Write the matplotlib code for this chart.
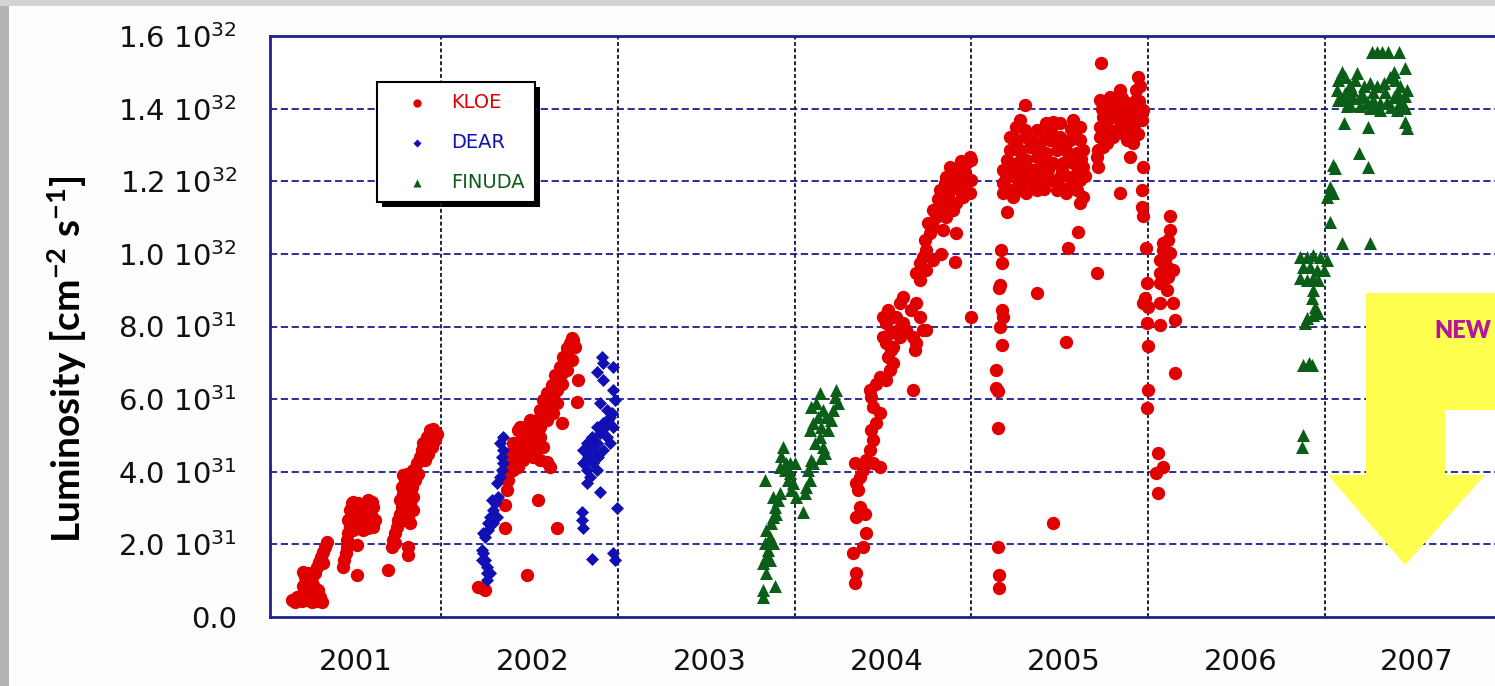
import matplotlib
matplotlib.use("Agg")
import matplotlib.pyplot as plt
from matplotlib.patches import Polygon, Rectangle

# ---------------- data (luminosity in units of 1e31 cm^-2 s^-1) ----------------
kloe_2001_year = [2001.155, 2001.174, 2001.193, 2001.212, 2001.231, 2001.250, 2001.269, 2001.297, 2001.325,
                  2001.316, 2001.212, 2001.231, 2001.250, 2001.269, 2001.221, 2001.240, 2001.259, 2001.278,
                  2001.231, 2001.250, 2001.269, 2001.221, 2001.288, 2001.297, 2001.312, 2001.320, 2001.331,
                  2001.344, 2001.353, 2001.334, 2001.306, 2001.288, 2001.259, 2001.203, 2001.184,
                  2001.448, 2001.452, 2001.464, 2001.471, 2001.468, 2001.476, 2001.485, 2001.476, 2001.485,
                  2001.495, 2001.504, 2001.533, 2001.561, 2001.589, 2001.608, 2001.617, 2001.598, 2001.570,
                  2001.542, 2001.514, 2001.495, 2001.523, 2001.551, 2001.580, 2001.608, 2001.627, 2001.598,
                  2001.570, 2001.542, 2001.514, 2001.495, 2001.533, 2001.561, 2001.589, 2001.617, 2001.504,
                  2001.527, 2001.527,
                  2001.702, 2001.721, 2001.731, 2001.740, 2001.750, 2001.759, 2001.768, 2001.778, 2001.768,
                  2001.787, 2001.778, 2001.797, 2001.787, 2001.806, 2001.825, 2001.844, 2001.862, 2001.881,
                  2001.891, 2001.900, 2001.919, 2001.938, 2001.957, 2001.975, 2001.966, 2001.947, 2001.928,
                  2001.910, 2001.872, 2001.853, 2001.834, 2001.844, 2001.825, 2001.844, 2001.815, 2001.806,
                  2001.825, 2001.815, 2001.815, 2001.806, 2001.825, 2001.787, 2001.740]
kloe_2001_lum = [0.47, 0.42, 0.49, 0.45, 0.51, 0.47, 0.42, 0.45, 0.42,
                 0.56, 0.61, 0.70, 0.74, 0.67, 0.84, 0.93, 1.02, 0.88,
                 1.11, 1.20, 1.11, 1.25, 1.20, 1.39, 1.52, 1.66, 1.80,
                 1.94, 2.07, 1.48, 0.74, 0.61, 0.56, 0.56, 0.56,
                 1.39, 1.57, 1.75, 1.94, 2.12, 2.30, 2.49, 2.67, 2.94,
                 3.13, 3.17, 3.13, 3.08, 3.22, 3.17, 3.04, 2.94, 2.94,
                 2.94, 2.94, 2.85, 2.76, 2.76, 2.81, 2.76, 2.67, 2.58,
                 2.53, 2.58, 2.53, 2.62, 2.44, 2.39, 2.44, 2.49, 2.39,
                 1.16, 1.98,
                 1.29, 1.94, 2.12, 2.30, 2.49, 2.67, 2.85, 3.04, 3.22,
                 3.40, 3.59, 3.77, 3.91, 3.95, 3.86, 4.04, 4.23, 4.41,
                 4.60, 4.78, 4.96, 5.15, 5.19, 5.05, 4.87, 4.69, 4.50,
                 4.32, 3.95, 3.77, 3.59, 3.31, 3.13, 2.94, 2.76, 2.94,
                 2.58, 1.94, 1.71, 3.50, 3.40, 2.67, 2.03]

kloe_2002_year = [2002.211, 2002.230, 2002.249, 2002.488, 2002.362, 2002.654, 2002.551, 2002.362, 2002.371,
                  2002.381, 2002.381, 2002.400, 2002.419, 2002.390, 2002.447, 2002.428, 2002.466, 2002.409,
                  2002.485, 2002.456, 2002.503, 2002.437, 2002.522, 2002.475, 2002.560, 2002.541, 2002.503,
                  2002.579, 2002.447, 2002.598, 2002.560, 2002.617, 2002.579, 2002.635, 2002.598, 2002.654,
                  2002.626, 2002.664, 2002.645, 2002.683, 2002.673, 2002.701, 2002.692, 2002.720, 2002.711,
                  2002.730, 2002.739, 2002.749, 2002.758, 2002.739, 2002.711, 2002.683, 2002.654, 2002.635,
                  2002.598, 2002.560, 2002.579, 2002.541, 2002.522, 2002.503, 2002.560, 2002.598, 2002.617,
                  2002.409, 2002.437, 2002.466, 2002.485, 2002.522, 2002.541, 2002.777, 2002.767, 2002.683]
kloe_2002_lum = [0.83, 0.79, 0.74, 1.15, 2.44, 2.44, 3.22, 3.08, 3.50,
                 3.77, 4.05, 4.23, 4.41, 4.51, 4.51, 4.69, 4.69, 4.78,
                 4.87, 4.97, 5.01, 5.15, 5.15, 5.24, 5.24, 5.42, 5.42,
                 5.52, 5.24, 5.70, 5.70, 5.88, 5.98, 6.07, 6.16, 6.25,
                 6.39, 6.53, 6.66, 6.71, 6.89, 6.99, 7.17, 7.26, 7.40,
                 7.54, 7.67, 7.63, 7.44, 7.08, 6.80, 6.43, 5.88, 5.61,
                 5.42, 4.97, 4.69, 4.60, 4.41, 4.69, 4.32, 4.28, 4.14,
                 4.05, 4.14, 4.32, 4.51, 4.78, 4.97, 6.53, 5.93, 5.33]

dear_2002_year = [2002.239, 2002.249, 2002.258, 2002.277, 2002.258, 2002.230, 2002.249, 2002.268, 2002.296,
                  2002.315, 2002.296, 2002.305, 2002.287, 2002.324, 2002.315, 2002.334, 2002.343, 2002.353,
                  2002.343, 2002.353, 2002.334, 2002.353, 2002.268, 2002.277, 2002.239, 2002.230, 2002.258,
                  2002.909, 2002.918, 2002.975, 2002.880, 2002.918, 2002.975, 2002.984, 2002.899, 2002.937,
                  2002.965, 2002.946, 2002.918, 2002.880, 2002.975, 2002.899, 2002.852, 2002.937, 2002.824,
                  2002.880, 2002.956, 2002.805, 2002.862, 2002.918, 2002.833, 2002.890, 2002.805, 2002.862,
                  2002.824, 2002.880, 2002.843, 2002.824, 2002.899, 2002.994, 2002.796, 2002.796, 2002.805,
                  2002.852, 2002.975, 2002.984, 2002.956, 2002.928, 2002.862, 2002.843]
dear_2002_lum = [1.75, 1.57, 1.38, 1.20, 1.02, 1.57, 2.21, 2.39, 2.58,
                 2.76, 2.94, 3.13, 3.22, 3.31, 3.68, 3.86, 4.05, 4.23,
                 4.41, 4.60, 4.78, 4.97, 2.58, 2.76, 2.30, 1.84, 1.20,
                 7.17, 6.99, 6.89, 6.75, 6.53, 6.25, 5.98, 5.88, 5.70,
                 5.61, 5.42, 5.33, 5.24, 5.24, 5.06, 4.97, 4.97, 4.78,
                 4.78, 4.78, 4.60, 4.60, 4.60, 4.41, 4.41, 4.23, 4.23,
                 4.05, 4.05, 3.86, 3.68, 3.45, 2.99, 2.90, 2.67, 2.44,
                 1.61, 1.75, 1.57, 5.52, 5.24, 4.87, 4.69]

finuda_2003_year = [2003.821, 2003.821, 2003.887, 2003.821, 2003.840, 2003.849, 2003.830, 2003.859, 2003.840,
                    2003.868, 2003.877, 2003.896, 2003.887, 2003.906, 2003.877, 2003.915, 2003.830, 2003.934,
                    2003.925, 2003.953, 2003.943, 2003.972, 2003.962, 2003.991, 2003.981, 2004.009, 2004.000,
                    2003.972, 2003.915, 2004.094, 2004.075, 2004.085, 2004.066, 2004.057, 2004.047, 2004.104,
                    2004.141, 2004.123, 2004.160, 2004.132, 2004.179, 2004.104, 2004.151, 2004.189, 2004.141,
                    2004.207, 2004.226, 2004.236, 2004.245, 2004.217, 2004.113, 2004.160, 2004.170, 2004.151,
                    2004.094, 2004.085, 2003.859, 2003.840, 2003.877]
finuda_2003_lum = [0.56, 0.74, 0.84, 1.48, 1.66, 1.85, 2.03, 2.21, 2.40,
                   2.58, 2.76, 2.85, 3.04, 3.22, 3.31, 3.41, 3.77, 4.69,
                   4.42, 4.23, 4.05, 3.96, 3.77, 3.68, 3.50, 3.31, 4.23,
                   4.23, 4.14, 4.32, 4.05, 3.77, 3.59, 3.41, 2.90, 4.23,
                   6.16, 5.88, 5.70, 5.52, 5.52, 5.33, 5.24, 5.15, 4.97,
                   5.42, 6.07, 6.25, 5.88, 5.70, 4.78, 4.69, 4.51, 4.37,
                   5.79, 5.15, 1.57, 1.20, 2.03]

kloe_2004_year = [2004.339, 2004.349, 2004.330, 2004.387, 2004.405, 2004.349, 2004.368, 2004.396, 2004.358,
                  2004.349, 2004.339, 2004.368, 2004.387, 2004.405, 2004.443, 2004.481, 2004.424, 2004.443,
                  2004.434, 2004.462, 2004.481, 2004.443, 2004.434, 2004.424, 2004.462, 2004.481, 2004.518,
                  2004.537, 2004.556, 2004.528, 2004.547, 2004.518, 2004.500, 2004.537, 2004.518, 2004.500,
                  2004.528, 2004.613, 2004.594, 2004.575, 2004.613, 2004.632, 2004.594, 2004.556, 2004.585,
                  2004.556, 2004.660, 2004.688, 2004.707, 2004.726, 2004.745, 2004.669, 2004.679, 2004.688,
                  2004.669, 2004.688, 2004.707, 2004.726, 2004.745, 2004.735, 2004.764, 2004.782, 2004.754,
                  2004.801, 2004.820, 2004.782, 2004.839, 2004.858, 2004.820, 2004.877, 2004.914, 2004.896,
                  2004.858, 2004.933, 2004.971, 2004.990, 2004.995, 2004.971, 2004.952, 2004.914, 2004.896,
                  2004.877, 2004.995, 2004.990, 2004.914, 2004.830, 2004.905, 2004.999, 2004.745, 2004.707,
                  2004.782, 2004.839, 2004.858, 2004.933, 2004.952,
                  2004.870, 2004.900, 2004.920, 2004.940, 2004.960, 2004.880, 2004.850, 2004.980, 2004.810,
                  2004.940]
kloe_2004_lum = [0.93, 1.20, 1.75, 1.94, 2.30, 2.76, 3.04, 2.85, 3.50,
                 3.68, 4.23, 3.86, 4.05, 4.32, 4.23, 4.14, 4.60, 4.87,
                 5.15, 5.33, 5.61, 5.79, 6.07, 6.25, 6.43, 6.62, 6.53,
                 6.80, 6.99, 7.17, 7.35, 7.54, 7.72, 7.81, 8.09, 8.27,
                 8.45, 8.82, 8.64, 8.27, 8.09, 7.90, 7.72, 7.44, 7.90,
                 8.27, 8.45, 8.64, 8.27, 7.90, 7.90, 7.72, 7.35, 7.54,
                 6.25, 9.46, 9.74, 9.92, 10.11, 10.38, 10.57, 10.75, 10.84,
                 11.02, 11.21, 11.21, 11.39, 11.58, 11.76, 11.94, 12.03, 12.22,
                 12.13, 12.31, 12.49, 12.68, 12.58, 11.94, 11.58, 11.39, 11.21,
                 11.76, 12.03, 11.67, 10.57, 10.01, 9.79, 8.27, 9.55, 9.28,
                 9.83, 10.66, 11.02, 11.85, 12.13,
                 11.50, 11.95, 12.35, 11.70, 12.30, 12.40, 11.95, 12.00, 11.50,
                 12.55]

kloe_2005_year = [2005.151, 2005.151, 2005.141, 2005.151, 2005.141, 2005.175, 2005.160, 2005.179, 2005.170,
                  2005.156, 2005.160, 2005.170, 2005.166, 2005.198, 2005.153, 2005.153,
                  2005.368, 2005.537, 2005.462, 2005.707, 2005.547, 2005.603,
                  2005.302, 2005.273, 2005.217, 2005.255, 2005.311, 2005.368, 2005.424, 2005.462, 2005.500,
                  2005.575, 2005.613, 2005.217, 2005.273, 2005.330, 2005.386, 2005.443, 2005.500, 2005.556,
                  2005.613, 2005.198, 2005.255, 2005.311, 2005.368, 2005.424, 2005.481, 2005.537, 2005.594,
                  2005.632, 2005.179, 2005.236, 2005.292, 2005.349, 2005.405, 2005.462, 2005.518, 2005.575,
                  2005.632, 2005.179, 2005.217, 2005.273, 2005.330, 2005.386, 2005.443, 2005.500, 2005.556,
                  2005.613, 2005.179, 2005.236, 2005.311, 2005.368, 2005.481, 2005.537, 2005.594, 2005.632,
                  2005.613,
                  2005.735, 2005.943, 2005.952, 2005.839, 2005.782, 2005.726, 2005.764, 2005.820, 2005.877,
                  2005.933, 2005.971, 2005.745, 2005.801, 2005.858, 2005.914, 2005.962, 2005.726, 2005.782,
                  2005.839, 2005.896, 2005.726, 2005.801, 2005.877, 2005.764, 2005.914, 2005.896, 2005.716,
                  2005.707, 2005.716, 2005.971, 2005.839, 2005.933, 2005.952,
                  2005.962, 2005.962, 2005.971, 2005.986, 2005.990, 2005.980, 2005.999, 2005.990, 2005.999,
                  2005.999, 2005.990, 2005.971,
                  2006.122, 2006.122, 2006.112, 2006.084, 2006.122, 2006.065, 2006.103, 2006.065, 2006.112,
                  2006.141, 2006.065, 2006.103, 2006.065, 2006.141, 2006.065, 2006.150, 2006.150, 2006.056,
                  2006.084, 2006.046, 2006.056, 2006.084, 2006.093]
kloe_2005_lum = [1.94, 5.20, 6.30, 6.21, 6.80, 7.49, 8.00, 8.27, 8.46,
                 9.05, 9.14, 9.74, 10.11, 11.16, 1.16, 0.80,
                 8.91, 7.58, 2.58, 9.48, 10.15, 10.61,
                 14.10, 13.69, 13.23, 13.14, 13.23, 13.41, 13.60, 13.64, 13.60,
                 13.69, 13.50, 12.86, 12.86, 12.95, 13.05, 13.14, 13.23, 13.14,
                 13.14, 12.59, 12.49, 12.59, 12.68, 12.77, 12.86, 12.86, 12.77,
                 12.86, 12.31, 12.22, 12.31, 12.31, 12.40, 12.49, 12.49, 12.49,
                 12.40, 11.94, 11.76, 11.94, 12.04, 12.13, 12.04, 12.13, 12.13,
                 12.04, 11.67, 11.58, 11.67, 11.76, 11.76, 11.67, 11.76, 11.58,
                 11.39,
                 15.27, 14.88, 14.61, 14.51, 14.33, 14.24, 14.06, 14.15, 14.15,
                 14.24, 13.96, 13.78, 13.78, 13.87, 13.78, 13.69, 13.50, 13.41,
                 13.50, 13.41, 13.23, 13.23, 13.14, 13.05, 13.05, 12.68, 12.86,
                 12.68, 12.40, 12.40, 11.67, 14.51, 13.96,
                 11.76, 11.30, 11.03, 10.15, 9.19, 8.78, 8.55, 8.09, 7.45,
                 6.25, 5.75, 8.64,
                 11.03, 10.66, 10.38, 10.11, 10.02, 9.83, 9.65, 9.47, 9.37,
                 9.56, 9.19, 9.01, 8.64, 8.64, 8.04, 8.18, 6.71, 4.51,
                 4.14, 3.96, 3.41, 10.29, 9.83]

# extra points inside the dense 2005 clusters
kloe_2005_core_year = [2005.195, 2005.225, 2005.245, 2005.265, 2005.285, 2005.300, 2005.320, 2005.340, 2005.355,
                       2005.375, 2005.395, 2005.410, 2005.415, 2005.435, 2005.450, 2005.470, 2005.490, 2005.510,
                       2005.525, 2005.545, 2005.565, 2005.585, 2005.600, 2005.620, 2005.640, 2005.285, 2005.520,
                       2005.250, 2005.560,
                       2005.740, 2005.760, 2005.800, 2005.830, 2005.850, 2005.870, 2005.900, 2005.920, 2005.950,
                       2005.780, 2005.860, 2005.940, 2005.745]
kloe_2005_core_lum = [12.10, 12.45, 12.90, 12.00, 12.65, 13.40, 12.20, 13.10, 11.90,
                      12.95, 12.55, 11.80, 13.25, 12.30, 13.45, 12.00, 13.20, 12.30,
                      13.00, 12.60, 11.90, 13.35, 12.30, 12.60, 12.15, 11.75, 11.80,
                      13.50, 13.45,
                      14.00, 13.60, 14.00, 13.80, 14.30, 13.60, 14.00, 13.55, 14.20,
                      13.20, 13.30, 13.30, 12.95]

finuda_2007_year = [2006.859, 2006.896, 2006.934, 2006.972, 2007.009, 2006.877, 2006.915, 2006.953, 2006.991,
                    2006.859, 2006.896, 2006.934, 2006.962, 2006.934, 2006.925, 2006.943, 2006.962, 2006.934,
                    2006.896, 2006.887, 2006.877, 2006.906, 2006.925, 2006.877, 2006.868,
                    2007.264, 2007.292, 2007.320, 2007.358, 2007.415, 2007.453, 2007.387, 2007.094, 2007.113,
                    2007.075, 2007.179, 2007.170, 2007.141, 2007.217, 2007.255, 2007.292, 2007.330, 2007.368,
                    2007.396, 2007.424, 2007.462, 2007.066, 2007.113, 2007.075, 2007.123, 2007.160, 2007.198,
                    2007.236, 2007.273, 2007.311, 2007.349, 2007.387, 2007.424, 2007.443, 2007.123, 2007.198,
                    2007.255, 2007.311, 2007.405, 2007.453, 2007.104, 2007.245, 2007.453, 2007.462, 2007.189,
                    2007.245, 2007.047, 2007.057, 2007.028, 2007.019, 2007.047, 2007.028, 2007.094, 2007.255,
                    2007.009,
                    2007.090, 2007.150, 2007.210, 2007.270, 2007.340, 2007.410, 2007.450, 2007.140, 2007.290,
                    2007.370]
finuda_2007_lum = [9.92, 9.92, 9.97, 9.92, 9.83, 9.65, 9.65, 9.56, 9.56,
                   9.33, 9.28, 9.33, 9.28, 9.01, 8.78, 8.55, 8.36, 8.32,
                   8.23, 8.09, 6.94, 6.99, 6.94, 5.01, 4.69,
                   15.57, 15.57, 15.57, 15.57, 15.57, 15.11, 15.02, 15.02, 14.88,
                   14.79, 14.97, 14.79, 14.65, 14.61, 14.70, 14.61, 14.70, 14.88,
                   14.79, 14.61, 14.51, 14.51, 14.42, 14.24, 14.24, 14.28, 14.33,
                   14.19, 14.24, 14.15, 14.19, 14.33, 14.19, 14.06, 14.06, 14.06,
                   14.01, 13.96, 13.96, 14.01, 13.60, 13.50, 13.64, 13.46, 12.77,
                   12.40, 12.45, 12.36, 11.85, 11.67, 11.67, 10.89, 10.29, 10.29,
                   11.58,
                   14.30, 14.50, 14.40, 14.45, 14.45, 14.40, 14.35, 14.10, 14.05,
                   14.05]

year_labels = ["2001", "2002", "2003", "2004", "2005", "2006", "2007"]
year_bounds = [2002, 2003, 2004, 2005, 2006, 2007]
ytick_vals = [0, 2, 4, 6, 8, 10, 12, 14, 16]
ytick_labels = ["0.0", "2.0 10$^{31}$", "4.0 10$^{31}$", "6.0 10$^{31}$", "8.0 10$^{31}$",
                "1.0 10$^{32}$", "1.2 10$^{32}$", "1.4 10$^{32}$", "1.6 10$^{32}$"]
series_names = ["KLOE", "DEAR", "FINUDA"]

# ---------------- figure ----------------
plt.rcParams["mathtext.default"] = "regular"
plt.rcParams["font.family"] = ["DejaVu Sans"]

W, H = 1495, 686
fig = plt.figure(figsize=(W / 100, H / 100), dpi=100, facecolor="#fdfdfc")

def fx(px):
    return px / W

def fy(py):
    return 1 - py / H

# grey screenshot border strips
fig.patches.append(Rectangle((0, 0), fx(9), 1, transform=fig.transFigure, facecolor="#b4b4b4",
                             edgecolor="none", zorder=0))
fig.patches.append(Rectangle((0, fy(6)), 1, 6 / H, transform=fig.transFigure,
                             facecolor="#d4d4d4", edgecolor="none", zorder=0))

L, R, T, B = 270, 1502, 36, 617
ax = fig.add_axes([fx(L), fy(B), (R - L) / W, (B - T) / H])
ax.set_xlim(2001.033, 2008.0)
ax.set_ylim(0, 16)

red = "#e00000"
blue = "#1010b4"
green = "#0b5e17"

kloe_year = kloe_2001_year + kloe_2002_year + kloe_2004_year + kloe_2005_year + kloe_2005_core_year
kloe_lum = kloe_2001_lum + kloe_2002_lum + kloe_2004_lum + kloe_2005_lum + kloe_2005_core_lum
finuda_year = finuda_2003_year + finuda_2007_year
finuda_lum = finuda_2003_lum + finuda_2007_lum

h_f = ax.scatter(finuda_year, finuda_lum, marker="^", s=88, color=green, linewidths=0, zorder=3,
                 label=series_names[2])
h_k = ax.scatter(kloe_year, kloe_lum, marker="o", s=92, color=red, linewidths=0, zorder=4,
                 label=series_names[0])
h_d = ax.scatter(dear_2002_year, dear_2002_lum, marker="D", s=44, color=blue, linewidths=0, zorder=5,
                 label=series_names[1])

# grid
ax.set_yticks(ytick_vals)
ax.set_yticklabels(ytick_labels)
for yv in ytick_vals[1:-1]:
    ax.axhline(yv, color="#1e1e8c", lw=1.3, linestyle=(0, (4, 2)), zorder=1)
for xv in year_bounds:
    ax.axvline(xv, color="#202040", lw=1.4, linestyle=(0, (2, 1.3)), zorder=1)

ax.set_xticks([y + 0.52 for y in range(2001, 2008)])
ax.set_xticklabels(year_labels)
ax.tick_params(axis="both", length=0, labelsize=21, colors="#111111")
ax.tick_params(axis="y", pad=24)
ax.tick_params(axis="x", pad=22)

for sp in ax.spines.values():
    sp.set_color("#1f1f8f")
    sp.set_linewidth(2)

# legend
leg = ax.legend(handles=[h_k, h_d, h_f], loc="upper left", bbox_to_anchor=(0.0869, 0.9208),
                borderaxespad=0, fontsize=14, frameon=True, fancybox=False, markerscale=0.62,
                borderpad=0.55, labelspacing=1.08, handlelength=3.0, handletextpad=0.25,
                labelcolor=[red, blue, green])
leg.get_frame().set_edgecolor("black")
leg.get_frame().set_linewidth(1.5)
leg.get_frame().set_alpha(1)
leg.set_zorder(10)

fig.canvas.draw()
bb = leg.get_window_extent()
sh = 5
fig.patches.append(Rectangle(((bb.x0 + sh) / W, (bb.y0 - sh) / H), bb.width / W, bb.height / H,
                             transform=fig.transFigure, facecolor="black", edgecolor="none", zorder=0.5))
ax.set_zorder(1)
ax.patch.set_alpha(0)
fig.patches.append(Rectangle((fx(L), fy(B)), (R - L) / W, (B - T) / H, transform=fig.transFigure,
                             facecolor="white", edgecolor="none", zorder=0.2))

# y label
fig.text(fx(67), fy(359), "Luminosity [cm$^{-2}$ s$^{-1}$]", rotation=90, ha="center", va="center",
         fontsize=28, fontweight="bold", family=["Lato", "DejaVu Sans"], color="black")

# yellow bent arrow overlay
arrow_px = [(1510, 293), (1366, 293), (1366, 475), (1328, 475), (1405, 565), (1485, 475),
            (1445, 475), (1445, 410), (1510, 410)]
fig.patches.append(Polygon([(fx(x), fy(y)) for x, y in arrow_px], closed=True, transform=fig.transFigure,
                           facecolor="#ffff4f", edgecolor="none", zorder=5))
fig.text(fx(1434), fy(331), "NEW", ha="left", va="center", fontsize=17, fontweight="heavy",
         family=["Lato", "DejaVu Sans"], color="#b2179f", zorder=6)

fig.savefig("out.png", dpi=100, facecolor=fig.get_facecolor())
